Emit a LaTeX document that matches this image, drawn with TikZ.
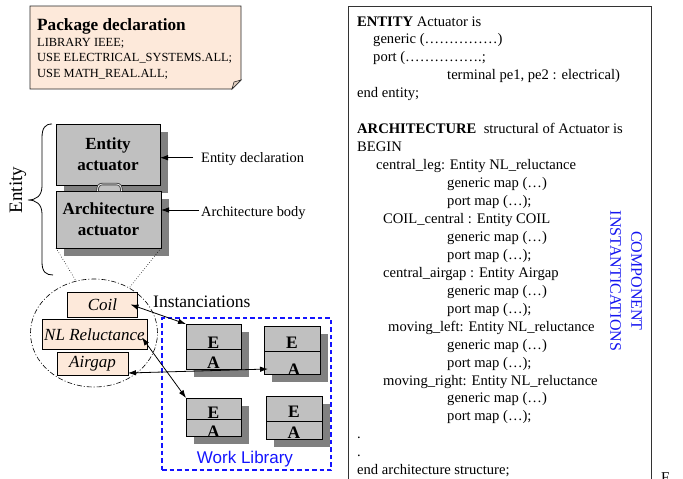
\documentclass[tikz,border=0pt]{standalone}
\usepackage{fontspec}
\setmainfont{Liberation Serif}
\newfontfamily\arialfont{Liberation Sans}
\usetikzlibrary{arrows.meta,shapes.geometric,shadows,calc}

\definecolor{boxgray}{RGB}{192,192,192}
\definecolor{shgray}{RGB}{128,128,128}
\definecolor{peach}{RGB}{253,233,218}
\definecolor{folddark}{RGB}{225,205,190}
\definecolor{libblue}{RGB}{20,20,255}
\definecolor{txtblue}{RGB}{20,20,240}

\begin{document}
\begin{tikzpicture}[x=1pt,y=-1pt,
  code/.style={anchor=base west, inner sep=0pt, font=\fontsize{14.6}{16}\selectfont},
  pkgtxt/.style={anchor=base west, inner sep=0pt, font=\fontsize{12.4}{14}\selectfont},
  lbl/.style={anchor=base west, inner sep=0pt, font=\fontsize{14.4}{16}\selectfont},
  arr/.style={-{Latex[length=8pt,width=5.5pt]}, line width=0.8pt},
  darr/.style={{Latex[length=8pt,width=5.5pt]}-{Latex[length=8pt,width=5.5pt]}, line width=0.8pt},
  gshadow/.style={drop shadow={shadow xshift=8pt, shadow yshift=-8pt, fill=shgray, opacity=1}},
  bigbox/.style={draw=black, line width=0.9pt, fill=boxgray, inner sep=0pt, outer sep=0pt,
     align=center, font=\fontsize{17}{21}\selectfont\bfseries, gshadow},
  eapart/.style={draw=black, line width=0.9pt, fill=boxgray, inner sep=0pt, outer sep=0pt, gshadow},
  ealetter/.style={anchor=base, inner sep=0pt, font=\fontsize{17.5}{17}\selectfont\bfseries},
  pbox/.style={draw=black, line width=0.8pt, fill=peach, inner sep=0pt, outer sep=0pt,
     font=\fontsize{17}{17}\selectfont\itshape},
]
\useasboundingbox (0,0) rectangle (683,479);

% ---------- package declaration note ----------
\filldraw[fill=peach, draw=black!85, line width=0.8pt]
  (30,6) -- (241,6) -- (241,80) -- (232,89) -- (30,89) -- cycle;
\filldraw[fill=folddark, draw=black!85, line width=0.6pt]
  (232,89) -- (234,82) -- (241,80) -- cycle;
\node[anchor=base west, inner sep=0pt, font=\fontsize{17.2}{17}\selectfont\bfseries] (pk0) at (37,30) {Package declaration};
\node[pkgtxt] (pk1) at (37,46) {LIBRARY IEEE;};
\node[pkgtxt] (pk2) at (37,61.5) {USE ELECTRICAL\_SYSTEMS.ALL;};
\node[pkgtxt] (pk3) at (37,77) {USE MATH\_REAL.ALL;};

% ---------- entity / architecture ----------
\node[bigbox, minimum width=104pt, minimum height=61pt] (ent) at (108,154.5) {Entity\\actuator};
\node[bigbox, minimum width=105pt, minimum height=57pt] (arch) at (108.5,219.5) {Architecture\\actuator};
\filldraw[fill=boxgray, draw=black!75, line width=0.9pt, double=white, double distance=0.7pt]
  (97.5,191) .. controls (97.5,186) and (99,184) .. (103,184) -- (116,184)
  .. controls (120,184) and (121.5,186) .. (121.5,191);
\coordinate (link) at (109.5,187);

\node[lbl] (entdecl) at (201,162.3) {Entity declaration};
\node[lbl] (archbody) at (201,216) {Architecture body};
\coordinate (ed) at ([xshift=-8pt,yshift=4.6pt]entdecl.base west);
\coordinate (ab) at ([xshift=-2pt,yshift=6pt]archbody.base west);
\draw[arr] (ed) -- (ed -| ent.east);
\draw[arr] (ab) -- (ab -| arch.east);

% brace and label
\draw[line width=0.8pt] (52,124) .. controls (45,124) and (42,128) .. (42,138)
   -- (42,186) .. controls (42,196) and (36,200) .. (28,200)
   .. controls (36,200) and (42,204) .. (42,214)
   -- (42,262) .. controls (42,272) and (46,275) .. (53,275);
\node[rotate=90, inner sep=0pt, font=\fontsize{19}{19}\selectfont] (entlbl) at (18,190) {Entity};

% ---------- component group ----------
\node[ellipse, draw, line width=0.6pt, dash pattern=on 5pt off 2pt on 1pt off 2pt,
      minimum width=127pt, minimum height=108pt, inner sep=0pt, outer sep=0pt] (grp) at (94,333) {};
\draw[dotted, line width=0.6pt] (arch.south west) -- (grp.109);
\draw[dotted, line width=0.6pt] (arch.south east) -- (grp.52);

\node[pbox, minimum width=70pt, minimum height=25pt] (coil) at (102.5,304.5) {Coil};
\node[pbox, minimum width=105pt, minimum height=30pt] (nl) at (94.5,334.5) {NL Reluctance};
\node[pbox, minimum width=71pt, minimum height=23pt] (air) at (92.5,363.5) {Airgap};

\node[anchor=base west, inner sep=0pt, font=\fontsize{17.5}{18}\selectfont] (inst) at (153,307) {Instanciations};

% ---------- work library ----------
\node[draw=libblue, line width=1.1pt, dash pattern=on 4.5pt off 3pt,
      minimum width=169pt, minimum height=152pt, inner sep=0pt, outer sep=0pt] (lib) at (246.5,394) {};
\node[anchor=base, inner sep=0pt, text=libblue, font=\arialfont\fontsize{17}{17}\selectfont] (wl) at (245,463) {Work Library};

% box 1
\node[eapart, minimum width=55pt, minimum height=25pt] (e1) at (213.5,336.5) {};
\node[eapart, minimum width=55pt, minimum height=20pt] (a1) at (213.5,359) {};
\node[ealetter] (le1) at (213.5,348) {E};
\node[ealetter] (la1) at (213.5,368.5) {A};
% box 2
\node[eapart, minimum width=56pt, minimum height=25pt] (e2) at (292,338.5) {};
\node[eapart, minimum width=56pt, minimum height=23pt] (a2) at (292,362.5) {};
\node[ealetter] (le2) at (292,348.5) {E};
\node[ealetter] (la2) at (294,375) {A};
% box 3
\node[eapart, minimum width=55pt, minimum height=21pt] (e3) at (213.5,408.5) {};
\node[ealetter] (le3) at (213.5,418.5) {E};
\node[eapart, minimum width=55pt, minimum height=17pt] (a3) at (213.5,427.5) {};
\node[ealetter] (la3) at (213.5,437) {A};
% box 4
\node[eapart, minimum width=56pt, minimum height=25pt] (e4) at (294,408.5) {};
\node[eapart, minimum width=56pt, minimum height=18pt] (a4) at (294,430) {};
\node[ealetter] (le4) at (294,417.5) {E};
\node[ealetter] (la4) at (294,438.5) {A};

% instanciation arrows
\draw[darr] ([xshift=-7pt]coil.east) -- (e1.north west);
\draw[darr] ([xshift=-5pt,yshift=-3pt]nl.east) -- (e3.north west);
\draw[darr] ([yshift=2pt]air.south east) -- ([xshift=4pt,yshift=5pt]a2.south west);

% ---------- code listing ----------
\draw[draw=black!80, line width=1pt] (348,490) -- (348,6) -- (651.5,6) -- (651.5,490);
\node[code] (c1) at (357,26) {\textbf{ENTITY} Actuator is};
\node[code] (c2) at (373,43.95) {generic (……………)};
\node[code] (c3) at (373,61.9) {port (…………….;};
\node[code] (c4) at (447,79.85) {terminal pe1, pe2 : electrical)};
\node[code] (c5) at (357,97.8) {end entity;};
\node[code] (c7) at (357,133.7) {\textbf{ARCHITECTURE}~ structural of Actuator is};
\node[code] (c8) at (357,151.65) {BEGIN};
\node[code] (c9) at (376,169.6) {central\_leg: Entity NL\_reluctance};
\node[code] (c10) at (447,187.55) {generic map (…)};
\node[code] (c11) at (447,205.5) {port map (…);};
\node[code] (c12) at (383,223.45) {COIL\_central : Entity COIL};
\node[code] (c13) at (447,241.4) {generic map (…)};
\node[code] (c14) at (447,259.35) {port map (…);};
\node[code] (c15) at (383,277.3) {central\_airgap : Entity Airgap};
\node[code] (c16) at (447,295.25) {generic map (…)};
\node[code] (c17) at (447,313.2) {port map (…);};
\node[code] (c18) at (388,331.15) {moving\_left: Entity NL\_reluctance};
\node[code] (c19) at (447,349.1) {generic map (…)};
\node[code] (c20) at (447,367.05) {port map (…);};
\node[code] (c21) at (383,385) {moving\_right: Entity NL\_reluctance};
\node[code] (c22) at (447,402.95) {generic map (…)};
\node[code] (c23) at (447,420.9) {port map (…);};
\node[code] (c24) at (357,438.85) {.};
\node[code] (c25) at (357,456.8) {.};
\node[code] (c26) at (357,474.75) {end architecture structure;};

\node[rotate=-90, align=center, inner sep=0pt, text=txtblue, font=\fontsize{16}{21}\selectfont] (ci) at (626,281) {COMPONENT\\INSTANTICATIONS};

\node[anchor=base west, inner sep=0pt, font=\fontsize{15}{15}\selectfont] (fig) at (661,482) {F};
\end{tikzpicture}
\end{document}
